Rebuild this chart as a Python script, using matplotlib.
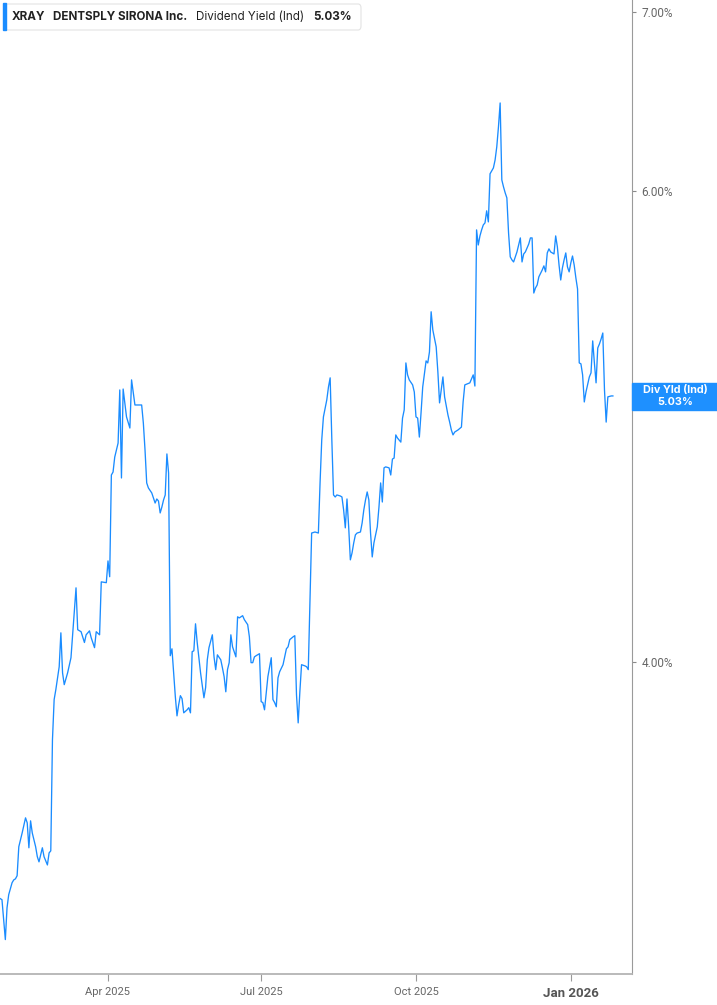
import pandas as pd
import matplotlib
matplotlib.use("Agg")
import matplotlib.pyplot as plt
import matplotlib.ticker as mticker
from matplotlib.patches import FancyBboxPatch, Rectangle

# ===============================
# DATA (dividend yield, %)
# ===============================
dates = [
    "2025-01-27", "2025-01-28", "2025-01-30", "2025-01-31",
    "2025-02-01", "2025-02-03", "2025-02-04", "2025-02-05", "2025-02-06", "2025-02-07", "2025-02-08",
    "2025-02-09", "2025-02-11", "2025-02-12", "2025-02-13", "2025-02-14", "2025-02-15", "2025-02-17",
    "2025-02-18", "2025-02-19", "2025-02-21", "2025-02-22", "2025-02-24", "2025-02-25", "2025-02-26",
    "2025-02-27", "2025-02-28",
    "2025-03-01", "2025-03-02", "2025-03-03", "2025-03-04", "2025-03-05", "2025-03-06", "2025-03-08",
    "2025-03-10", "2025-03-13", "2025-03-14", "2025-03-16", "2025-03-18", "2025-03-19", "2025-03-21",
    "2025-03-22", "2025-03-24", "2025-03-25", "2025-03-27", "2025-03-28", "2025-03-31",
    "2025-04-01", "2025-04-02", "2025-04-03", "2025-04-04", "2025-04-05", "2025-04-07", "2025-04-08",
    "2025-04-09", "2025-04-10", "2025-04-11", "2025-04-12", "2025-04-14", "2025-04-15", "2025-04-17",
    "2025-04-19", "2025-04-21", "2025-04-22", "2025-04-23", "2025-04-24", "2025-04-25", "2025-04-27",
    "2025-04-28", "2025-04-29", "2025-04-30",
    "2025-05-01", "2025-05-02", "2025-05-03", "2025-05-04", "2025-05-05", "2025-05-06", "2025-05-07",
    "2025-05-08", "2025-05-09", "2025-05-10", "2025-05-11", "2025-05-12", "2025-05-13", "2025-05-14",
    "2025-05-15", "2025-05-16", "2025-05-18", "2025-05-19", "2025-05-20", "2025-05-21", "2025-05-22",
    "2025-05-23", "2025-05-24", "2025-05-26", "2025-05-28", "2025-05-29", "2025-05-30", "2025-05-31",
    "2025-06-02", "2025-06-03", "2025-06-04", "2025-06-05", "2025-06-07", "2025-06-08", "2025-06-09",
    "2025-06-10", "2025-06-11", "2025-06-12", "2025-06-13", "2025-06-14", "2025-06-16", "2025-06-17",
    "2025-06-18", "2025-06-20", "2025-06-21", "2025-06-23", "2025-06-24", "2025-06-25", "2025-06-26",
    "2025-06-27", "2025-06-28", "2025-06-30",
    "2025-07-01", "2025-07-02", "2025-07-03", "2025-07-04", "2025-07-05", "2025-07-07", "2025-07-08",
    "2025-07-09", "2025-07-10", "2025-07-11", "2025-07-12", "2025-07-14", "2025-07-15", "2025-07-16",
    "2025-07-17", "2025-07-18", "2025-07-20", "2025-07-21", "2025-07-22", "2025-07-23", "2025-07-24",
    "2025-07-25", "2025-07-27", "2025-07-28", "2025-07-29", "2025-07-31",
    "2025-08-02", "2025-08-04", "2025-08-05", "2025-08-06", "2025-08-07", "2025-08-09", "2025-08-10",
    "2025-08-11", "2025-08-12", "2025-08-13", "2025-08-14", "2025-08-15", "2025-08-17", "2025-08-18",
    "2025-08-19", "2025-08-20", "2025-08-21", "2025-08-22", "2025-08-23", "2025-08-24", "2025-08-25",
    "2025-08-26", "2025-08-27", "2025-08-29", "2025-08-30", "2025-08-31",
    "2025-09-01", "2025-09-02", "2025-09-03", "2025-09-04", "2025-09-05", "2025-09-06", "2025-09-08",
    "2025-09-09", "2025-09-10", "2025-09-11", "2025-09-12", "2025-09-13", "2025-09-15", "2025-09-16",
    "2025-09-17", "2025-09-18", "2025-09-19", "2025-09-20", "2025-09-22", "2025-09-23", "2025-09-24",
    "2025-09-25", "2025-09-26", "2025-09-27", "2025-09-29", "2025-09-30",
    "2025-10-01", "2025-10-02", "2025-10-03", "2025-10-04", "2025-10-05", "2025-10-07", "2025-10-08",
    "2025-10-09", "2025-10-10", "2025-10-11", "2025-10-13", "2025-10-14", "2025-10-15", "2025-10-17",
    "2025-10-18", "2025-10-20", "2025-10-21", "2025-10-22", "2025-10-23", "2025-10-24", "2025-10-26",
    "2025-10-28", "2025-10-29", "2025-10-30",
    "2025-11-02", "2025-11-03", "2025-11-04", "2025-11-05", "2025-11-06", "2025-11-07", "2025-11-08",
    "2025-11-09", "2025-11-10", "2025-11-11", "2025-11-12", "2025-11-13", "2025-11-14", "2025-11-16",
    "2025-11-17", "2025-11-18", "2025-11-19", "2025-11-20", "2025-11-21", "2025-11-22", "2025-11-23",
    "2025-11-24", "2025-11-25", "2025-11-26", "2025-11-27", "2025-11-28", "2025-11-29", "2025-11-30",
    "2025-12-01", "2025-12-02", "2025-12-03", "2025-12-04", "2025-12-05", "2025-12-07", "2025-12-08",
    "2025-12-09", "2025-12-10", "2025-12-11", "2025-12-12", "2025-12-13", "2025-12-15", "2025-12-16",
    "2025-12-17", "2025-12-18", "2025-12-19", "2025-12-20", "2025-12-22", "2025-12-23", "2025-12-24",
    "2025-12-25", "2025-12-26", "2025-12-27", "2025-12-28", "2025-12-29", "2025-12-30", "2025-12-31",
    "2026-01-01", "2026-01-02", "2026-01-03", "2026-01-04", "2026-01-05", "2026-01-06", "2026-01-07",
    "2026-01-08", "2026-01-09", "2026-01-10", "2026-01-12", "2026-01-13", "2026-01-14", "2026-01-15",
    "2026-01-16", "2026-01-17", "2026-01-18", "2026-01-19", "2026-01-20", "2026-01-21", "2026-01-22",
    "2026-01-23", "2026-01-25", "2026-01-26",
]

div_yield = [
    3.263, 3.260, 3.150, 3.237,
    3.274, 3.308, 3.316, 3.319, 3.328, 3.412, 3.432,
    3.453, 3.498, 3.483, 3.409, 3.489, 3.453, 3.412,
    3.383, 3.368, 3.409, 3.383, 3.359, 3.394, 3.400,
    3.741, 3.873,
    3.906, 3.946, 3.984, 4.102, 3.963, 3.923, 3.963,
    4.015, 4.264, 4.113, 4.106, 4.068, 4.095, 4.109,
    4.085, 4.050, 4.106, 4.095, 4.286, 4.283,
    4.364, 4.305, 4.699, 4.711, 4.772, 4.830, 5.056,
    4.687, 5.060, 5.000, 4.940, 4.893, 5.100, 4.991,
    4.991, 4.991, 4.914, 4.801, 4.667, 4.647, 4.627,
    4.607, 4.587, 4.603,
    4.595, 4.548, 4.571, 4.599, 4.619, 4.785, 4.707,
    4.022, 4.046, 3.963, 3.883, 3.819, 3.856, 3.886,
    3.876, 3.829, 3.839, 3.846, 3.829, 4.036, 4.039,
    4.134, 4.068, 3.963, 3.879, 3.913, 4.008, 4.050,
    4.095, 4.018, 3.974, 4.025, 4.008, 3.980, 3.950,
    3.899, 3.974, 3.998, 4.095, 4.053, 4.018, 4.159,
    4.155, 4.163, 4.149, 4.131, 4.088, 3.998, 3.998,
    4.018, 4.022, 4.029,
    3.866, 3.863, 3.839, 3.896, 3.950, 4.015, 3.873,
    3.863, 3.849, 3.946, 3.967, 3.991, 4.018, 4.046,
    4.053, 4.078, 4.088, 4.092, 3.889, 3.796, 3.899,
    3.991, 3.987, 3.984, 3.974, 4.470,
    4.474, 4.470, 4.667, 4.843, 4.940, 5.013, 5.069,
    5.109, 4.843, 4.619, 4.611, 4.619, 4.615, 4.611,
    4.560, 4.490, 4.603, 4.494, 4.368, 4.394, 4.432,
    4.463, 4.470, 4.474, 4.509, 4.560,
    4.599, 4.631, 4.599, 4.470, 4.379, 4.432, 4.494,
    4.571, 4.667, 4.591, 4.728, 4.732, 4.728, 4.699,
    4.764, 4.768, 4.864, 4.851, 4.834, 4.935, 4.970,
    5.175, 5.122, 5.100, 5.078, 5.047,
    4.940, 4.935, 4.855, 4.957, 5.069, 5.184, 5.175,
    5.224, 5.408, 5.324, 5.247, 5.135, 5.000, 5.113,
    5.026, 4.948, 4.918, 4.885, 4.864, 4.876, 4.885,
    4.897, 5.004, 5.078,
    5.087, 5.104, 5.122, 5.073, 5.803, 5.728, 5.773,
    5.803, 5.828, 5.838, 5.899, 5.843, 6.090, 6.121,
    6.163, 6.233, 6.341, 6.473, 6.058, 6.022, 5.991,
    5.965, 5.788, 5.670, 5.655, 5.645, 5.670, 5.694,
    5.728, 5.763, 5.645, 5.684, 5.694, 5.733, 5.763,
    5.763, 5.496, 5.520, 5.534, 5.573, 5.606, 5.626,
    5.597, 5.689, 5.709, 5.694, 5.684, 5.773, 5.719,
    5.630, 5.558, 5.616, 5.655, 5.689, 5.621, 5.597,
    5.640, 5.674, 5.630, 5.568, 5.515, 5.175, 5.171,
    5.122, 5.004, 5.047, 5.113, 5.131, 5.274, 5.175,
    5.087, 5.242, 5.260, 5.283, 5.310, 5.056, 4.918,
    5.026, 5.030, 5.030,
]

y_ticks = [4, 5, 6, 7]
x_tick_dates = ["2025-04-01", "2025-07-01", "2025-10-01", "2026-01-01"]
x_tick_labels = ["Apr 2025", "Jul 2025", "Oct 2025", "Jan 2026"]

ticker_sym = "XRAY"
company = "DENTSPLY SIRONA Inc."
metric = "Dividend Yield (Ind)"
last_value = "5.03%"

line_blue = "#1a8cff"
W, H = 717, 1005

# ===============================
# FIGURE
# ===============================
fig = plt.figure(figsize=(W / 100, H / 100), dpi=100)
ax = fig.add_axes([0, 1 - 974 / H, 632 / W, 974 / H])

x = pd.to_datetime(dates)
ax.plot(x, div_yield, color=line_blue, lw=0.95, zorder=3)

ax.set_yscale("log")
ax.set_ylim(3.058, 7.073)
ax.set_xlim(pd.Timestamp("2025-01-01") + pd.Timedelta(days=25.83),
            pd.Timestamp("2025-01-01") + pd.Timedelta(days=401.35))

for s in ["left", "top"]:
    ax.spines[s].set_visible(False)
ax.spines["right"].set_color("#9a9a9a")
ax.spines["bottom"].set_color("#b4b4b4")
ax.spines["bottom"].set_linewidth(1.3)

# y axis on the right (5% label sits under the value tag)
ax.yaxis.tick_right()
ax.yaxis.set_major_locator(mticker.FixedLocator(y_ticks))
ax.yaxis.set_minor_locator(mticker.NullLocator())
ax.set_yticklabels([f"{t:.2f}%" if t != 5 else "" for t in y_ticks])
ax.tick_params(axis="y", length=3, width=0.8, color="#8a8a8a", pad=4,
               labelsize=8.5, labelcolor="#666666")
for lab in ax.get_yticklabels():
    lab.set_family("Roboto")

# x axis
ax.set_xticks(pd.to_datetime(x_tick_dates))
ax.set_xticklabels(x_tick_labels)
ax.tick_params(axis="x", length=5, width=0.8, color="#9a9a9a", pad=4,
               labelsize=8, labelcolor="#666666")
for lab in ax.get_xticklabels():
    lab.set_family("Roboto")
jan = ax.get_xticklabels()[-1]
jan.set_fontweight("bold")
jan.set_fontsize(9.5)
jan.set_color("#555555")

# header box
fig.patches.append(FancyBboxPatch((4 / W, 1 - 30 / H), 357 / W, 26 / H,
                                  boxstyle="round,pad=0,rounding_size=0.004",
                                  transform=fig.transFigure, facecolor="white",
                                  edgecolor="#e3e3e3", lw=0.8, zorder=5))
fig.patches.append(Rectangle((3 / W, 1 - 30 / H), 3 / W, 27 / H,
                             transform=fig.transFigure, color=line_blue, zorder=6))
hy = 1 - 17 / H
hdr = dict(fontsize=8.4, color="#222222", va="center", family="Inter", zorder=7)
fig.text(12 / W, hy, ticker_sym, fontweight="bold", **hdr)
fig.text(53 / W, hy, company, fontweight="bold", **hdr)
fig.text(196 / W, hy, metric, **hdr)
fig.text(313 / W, hy, last_value, fontweight="bold", **hdr)

# last value tag on the right axis
fig.patches.append(Rectangle((632 / W, 1 - 410 / H), 85 / W, 27 / H,
                             transform=fig.transFigure, color="#1e90ff", zorder=5))
tag = dict(fontsize=7.8, fontweight="bold", color="white", ha="center",
           va="center", family="Inter", zorder=7)
fig.text(675 / W, 1 - 390 / H, "Div Yld (Ind)", **tag)
fig.text(675 / W, 1 - 402 / H, last_value, **tag)

fig.savefig("out.png", dpi=100)
